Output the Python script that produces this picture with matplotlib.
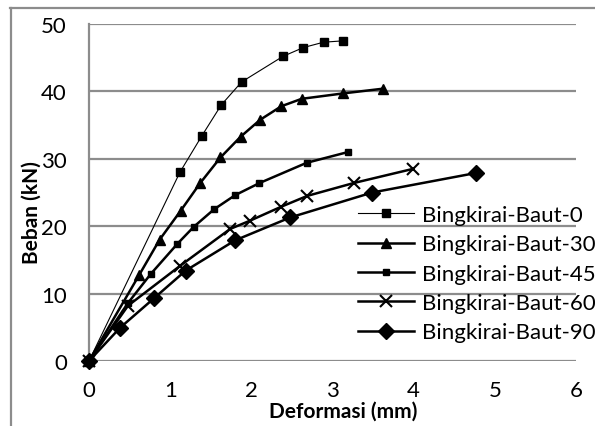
import matplotlib.pyplot as plt
from matplotlib.lines import Line2D

plt.rcParams['font.family'] = ['Lato', 'DejaVu Sans']

# data (deformasi mm, beban kN)
x_b0 = [0, 1.12, 1.39, 1.63, 1.88, 2.39, 2.64, 2.89, 3.13]
y_b0 = [0, 28.0, 33.4, 38.0, 41.4, 45.2, 46.5, 47.3, 47.5]

x_b30 = [0, 0.62, 0.87, 1.13, 1.37, 1.62, 1.87, 2.11, 2.37, 2.62, 3.13, 3.62]
y_b30 = [0, 12.8, 18.0, 22.3, 26.4, 30.2, 33.3, 35.8, 37.8, 38.9, 39.7, 40.4]

x_b45 = [0, 0.48, 0.76, 1.09, 1.29, 1.54, 1.80, 2.10, 2.68, 3.19]
y_b45 = [0, 8.6, 12.9, 17.4, 19.9, 22.5, 24.6, 26.4, 29.4, 31.0]

x_b60 = [0, 0.48, 1.12, 1.74, 1.98, 2.37, 2.69, 3.26, 3.99]
y_b60 = [0, 8.2, 14.1, 19.6, 20.8, 22.9, 24.5, 26.4, 28.5]

x_b90 = [0, 0.38, 0.80, 1.19, 1.80, 2.48, 3.49, 4.77]
y_b90 = [0, 4.9, 9.3, 13.4, 17.9, 21.3, 25.0, 27.9]

labels = ['Bingkirai-Baut-0', 'Bingkirai-Baut-30', 'Bingkirai-Baut-45',
          'Bingkirai-Baut-60', 'Bingkirai-Baut-90']

fig = plt.figure(figsize=(5.95, 4.27), dpi=100)
ax = fig.add_axes([89/595, 1-362/427, 487/595, 337/427])

gray = '#8c8c8c'
ax.plot(x_b0, y_b0, '-s', color='black', lw=0.8, ms=6, label=labels[0], clip_on=False, zorder=3)
ax.plot(x_b30, y_b30, '-^', color='black', lw=1.8, ms=7.5, label=labels[1], clip_on=False, zorder=3)
ax.plot(x_b45, y_b45, '-s', color='black', lw=1.8, ms=5, label=labels[2], clip_on=False, zorder=3)
ax.plot(x_b60, y_b60, '-x', color='black', lw=1.8, ms=9, mew=1.5, label=labels[3], clip_on=False, zorder=3)
ax.plot(x_b90, y_b90, '-D', color='black', lw=1.8, ms=8, label=labels[4], clip_on=False, zorder=3)

ax.set_xlim(0, 6)
ax.set_ylim(0, 50)
ax.set_xticks(range(0, 7))
ax.set_yticks(range(0, 51, 10))
ax.grid(axis='y', color=gray, lw=1.6)
ax.set_axisbelow(True)
for s in ['top', 'right', 'bottom']:
    ax.spines[s].set_visible(False)
ax.spines['left'].set_color(gray)
ax.spines['left'].set_linewidth(1.6)
ax.tick_params(length=0, labelsize=16)
ax.tick_params(axis='x', pad=14)
ax.tick_params(axis='y', pad=16)

ax.set_xlabel('Deformasi (mm)', fontsize=15, fontweight='bold')
ax.xaxis.set_label_coords(0.522, -0.117)
ax.set_ylabel('Beban (kN)', fontsize=15, fontweight='bold')
ax.yaxis.set_label_coords(-0.098, 0.442)

ax.legend(loc='upper left', bbox_to_anchor=(358/595, 1-206/427), bbox_transform=fig.transFigure,
          frameon=False, fontsize=16, handlelength=2.5, labelspacing=0.42,
          borderpad=0, borderaxespad=0, handletextpad=0.4)

# outer frame lines (partial border)
fig.add_artist(Line2D([10/595, 1], [1-9/427, 1-9/427], color=gray, lw=1.6))
fig.add_artist(Line2D([11/595, 11/595], [0, 1-9/427], color=gray, lw=1.6))

fig.savefig('out.png', dpi=100)
